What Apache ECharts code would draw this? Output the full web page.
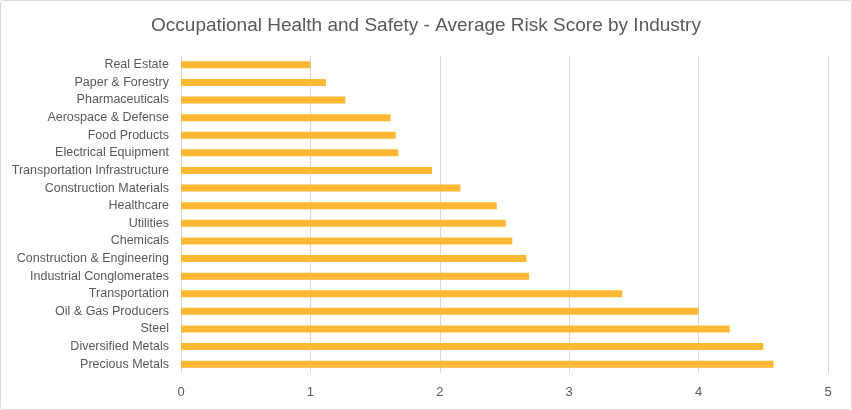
<!DOCTYPE html>
<html><head><meta charset="utf-8">
<script src="https://cdn.jsdelivr.net/npm/echarts@6/dist/echarts.min.js"></script>
<style>html,body{margin:0;padding:0;background:#fff}#c{width:852px;height:410px}</style>
</head><body><div id="c"></div>
<script>
const categories = ["Real Estate","Paper & Forestry","Pharmaceuticals","Aerospace & Defense","Food Products","Electrical Equipment","Transportation Infrastructure","Construction Materials","Healthcare","Utilities","Chemicals","Construction & Engineering","Industrial Conglomerates","Transportation","Oil & Gas Producers","Steel","Diversified Metals","Precious Metals"];
const riskScores = [1.0,1.12,1.27,1.62,1.66,1.68,1.94,2.16,2.44,2.51,2.56,2.67,2.69,3.41,4.0,4.24,4.5,4.58];
const xTicks = [0,1,2,3,4,5];
const FONT = '"Liberation Sans",sans-serif';
const chart = echarts.init(document.getElementById('c'));
chart.setOption({
  animation:false,
  title:{text:'Occupational Health and Safety - Average Risk Score by Industry',left:'center',top:11,
    textStyle:{fontFamily:FONT,fontSize:19,fontWeight:'normal',color:'#595959'}},
  graphic:[{type:'rect',shape:{x:0.5,y:0.5,width:851,height:409,r:3},style:{fill:'none',stroke:'#d9d9d9',lineWidth:1}}],
  grid:{left:181,right:24,top:56,bottom:37,containLabel:false},
  xAxis:{type:'value',min:xTicks[0],max:xTicks[xTicks.length-1],interval:1,
    axisLine:{show:false},axisTick:{show:false},
    splitLine:{lineStyle:{color:'#d9d9d9',width:1}},
    axisLabel:{fontFamily:FONT,fontSize:13,color:'#595959',margin:13}},
  yAxis:{type:'category',data:categories,inverse:true,
    axisLine:{show:true,lineStyle:{color:'#d9d9d9'}},axisTick:{show:false},
    axisLabel:{fontFamily:FONT,fontSize:12.5,color:'#595959',margin:12}},
  series:[{type:'bar',data:riskScores,barWidth:7,itemStyle:{color:'#ffb833'}}]
});
</script></body></html>
